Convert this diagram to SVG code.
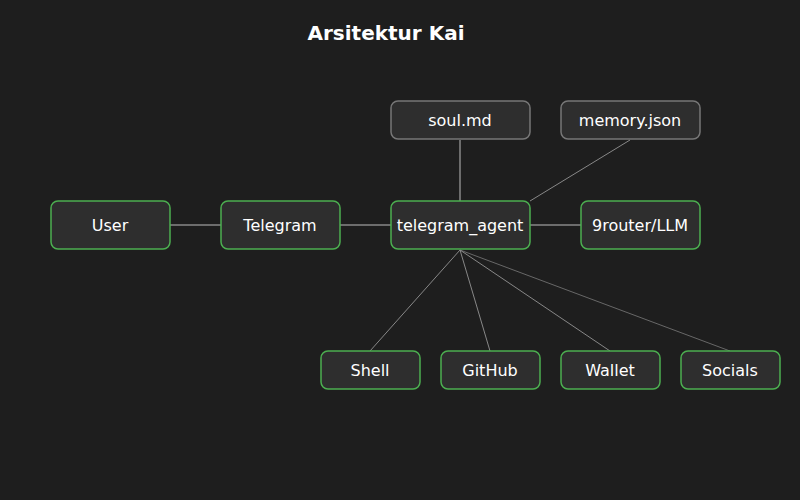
<svg xmlns="http://www.w3.org/2000/svg" width="800" height="500" viewBox="0 0 800 500">
<style>
text{font-family:"DejaVu Sans",sans-serif;fill:#fff;text-anchor:middle;dominant-baseline:central}
.n rect{fill:#2e2e2e;stroke:#4caf50;stroke-width:1.5}
.f rect{fill:#2e2e2e;stroke:#777;stroke-width:1.5}
.n text,.f text{font-size:16px}
#edges line{stroke:#888;stroke-width:1.5}
#edges .t{stroke-width:1}
</style>
<rect width="800" height="500" fill="#1e1e1e"/>
<text x="386" y="33" style="font-size:20px;font-weight:bold">Arsitektur Kai</text>
<g id="edges">
<line x1="170" y1="225" x2="221" y2="225"/>
<line x1="340" y1="225" x2="391" y2="225"/>
<line x1="530" y1="225" x2="581" y2="225"/>
<line x1="460" y1="140" x2="460" y2="201"/>
<line x1="630" y1="140" x2="530" y2="201" class="t"/>
<line x1="460" y1="250" x2="370" y2="351" class="t"/>
<line x1="460" y1="250" x2="490" y2="351" class="t"/>
<line x1="460" y1="250" x2="610" y2="351" class="t"/>
<line x1="460" y1="250" x2="730" y2="351" class="t" style="stroke-width:0.7"/>
</g>
<g id="user" class="n"><rect x="51" y="201" width="119" height="48" rx="7"/><text x="110" y="225">User</text></g>
<g id="telegram" class="n"><rect x="221" y="201" width="119" height="48" rx="7"/><text x="280" y="225">Telegram</text></g>
<g id="agent" class="n"><rect x="391" y="201" width="139" height="48" rx="7"/><text x="460" y="225">telegram_agent</text></g>
<g id="router" class="n"><rect x="581" y="201" width="119" height="48" rx="7"/><text x="640" y="225">9router/LLM</text></g>
<g id="soul" class="f"><rect x="391" y="101" width="139" height="38" rx="7"/><text x="460" y="120">soul.md</text></g>
<g id="memory" class="f"><rect x="561" y="101" width="139" height="38" rx="7"/><text x="630" y="120">memory.json</text></g>
<g id="shell" class="n"><rect x="321" y="351" width="99" height="38" rx="7"/><text x="370" y="370">Shell</text></g>
<g id="github" class="n"><rect x="441" y="351" width="99" height="38" rx="7"/><text x="490" y="370">GitHub</text></g>
<g id="wallet" class="n"><rect x="561" y="351" width="99" height="38" rx="7"/><text x="610" y="370">Wallet</text></g>
<g id="socials" class="n"><rect x="681" y="351" width="99" height="38" rx="7"/><text x="730" y="370">Socials</text></g>
</svg>
